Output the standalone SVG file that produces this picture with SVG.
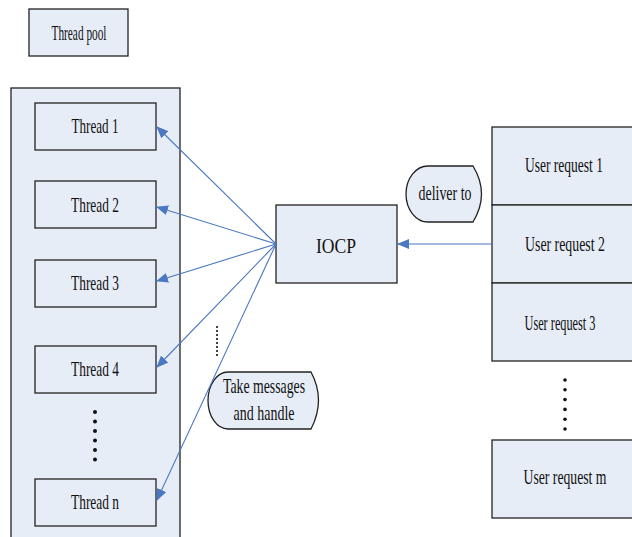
<svg xmlns="http://www.w3.org/2000/svg" width="632" height="537" viewBox="0 0 632 537">
<style>
.box{fill:#e7edf7;stroke:#222;stroke-width:1.3}
.t{font-family:"Liberation Serif","Times New Roman",serif;font-size:22px;fill:#111;text-anchor:middle}
.c{stroke:#4a78c2;stroke-width:1.1;fill:none;marker-end:url(#ah)}
.dot{fill:#111}
</style>
<defs>
<marker id="ah" viewBox="0 0 12 10" refX="11" refY="5" markerWidth="12" markerHeight="10" markerUnits="userSpaceOnUse" orient="auto">
<path d="M0,0 L12,5 L0,10 Z" fill="#4a78c2"/>
</marker>
</defs>
<rect width="632" height="537" fill="#fff"/>
<g id="thread-pool-label">
<rect class="box" x="29" y="9" width="99" height="47"/>
<text class="t" x="79" y="40" textLength="55" lengthAdjust="spacingAndGlyphs">Thread pool</text>
</g>
<g id="thread-pool">
<rect class="box" x="11" y="88" width="169" height="460"/>
</g>
<g id="thread1"><rect class="box" x="35" y="103" width="121" height="47"/><text class="t" x="95" y="133" textLength="47" lengthAdjust="spacingAndGlyphs">Thread 1</text></g>
<g id="thread2"><rect class="box" x="35" y="181" width="121" height="47"/><text class="t" x="95" y="212" textLength="48" lengthAdjust="spacingAndGlyphs">Thread 2</text></g>
<g id="thread3"><rect class="box" x="35" y="260" width="121" height="47"/><text class="t" x="95" y="290" textLength="48" lengthAdjust="spacingAndGlyphs">Thread 3</text></g>
<g id="thread4"><rect class="box" x="35" y="346" width="121" height="47"/><text class="t" x="95" y="376" textLength="48" lengthAdjust="spacingAndGlyphs">Thread 4</text></g>
<g id="threadn"><rect class="box" x="35" y="479" width="121" height="47"/><text class="t" x="95" y="509" textLength="48" lengthAdjust="spacingAndGlyphs">Thread n</text></g>
<g id="thread-dots">
<circle class="dot" cx="95" cy="412" r="2"/><circle class="dot" cx="95" cy="421.5" r="2"/><circle class="dot" cx="95" cy="431" r="2"/><circle class="dot" cx="95" cy="440.5" r="2"/><circle class="dot" cx="95" cy="450" r="2"/><circle class="dot" cx="95" cy="459.5" r="2"/>
</g>
<g id="iocp">
<rect class="box" x="276" y="205" width="121" height="78"/>
<text class="t" x="336" y="253" font-size="28" textLength="40" lengthAdjust="spacingAndGlyphs">IOCP</text>
</g>
<g id="user-request-1"><rect class="box" x="492" y="127" width="141" height="78"/><text class="t" x="564" y="172" textLength="78" lengthAdjust="spacingAndGlyphs">User request 1</text></g>
<g id="user-request-2"><rect class="box" x="492" y="205" width="141" height="78"/><text class="t" x="565" y="251" textLength="80" lengthAdjust="spacingAndGlyphs">User request 2</text></g>
<g id="user-request-3"><rect class="box" x="492" y="283" width="141" height="78"/><text class="t" x="560" y="330" textLength="71" lengthAdjust="spacingAndGlyphs">User request 3</text></g>
<g id="user-request-m"><rect class="box" x="492" y="440" width="141" height="78"/><text class="t" x="565" y="484" textLength="83" lengthAdjust="spacingAndGlyphs">User request m</text></g>
<g id="request-dots">
<circle class="dot" cx="565" cy="380" r="1.8"/><circle class="dot" cx="565" cy="389.8" r="1.8"/><circle class="dot" cx="565" cy="399.6" r="1.8"/><circle class="dot" cx="565" cy="409.4" r="1.8"/><circle class="dot" cx="565" cy="419.2" r="1.8"/><circle class="dot" cx="565" cy="429" r="1.8"/>
</g>
<g id="deliver-to">
<path class="box" d="M428,166 L473,166 Q490,194 473,222 L428,222 A22,28 0 0 1 428,166 Z"/>
<text class="t" x="445" y="200" textLength="53" lengthAdjust="spacingAndGlyphs">deliver to</text>
</g>
<g id="take-messages">
<path class="box" d="M228,372 L311,372 Q326,400 311,429 L228,429 A20,28.5 0 0 1 228,372 Z"/>
<text class="t" x="264" y="393" textLength="82" lengthAdjust="spacingAndGlyphs">Take messages</text>
<text class="t" x="264" y="420" textLength="61" lengthAdjust="spacingAndGlyphs">and handle</text>
</g>
<g id="middle-dots">
<circle class="dot" cx="217" cy="327" r="1.1"/><circle class="dot" cx="217" cy="331" r="1.1"/><circle class="dot" cx="217" cy="335" r="1.1"/><circle class="dot" cx="217" cy="339" r="1.1"/><circle class="dot" cx="217" cy="343" r="1.1"/><circle class="dot" cx="217" cy="347" r="1.1"/><circle class="dot" cx="217" cy="351" r="1.1"/><circle class="dot" cx="217" cy="355" r="1.1"/>
</g>
<g id="connectors">
<line class="c" x1="276" y1="244" x2="157" y2="127"/>
<line class="c" x1="276" y1="244" x2="157" y2="207"/>
<line class="c" x1="276" y1="244" x2="157" y2="281"/>
<line class="c" x1="276" y1="244" x2="157" y2="367"/>
<line class="c" x1="276" y1="244" x2="157" y2="500"/>
<line class="c" x1="492" y1="244" x2="398" y2="244"/>
</g>
</svg>
